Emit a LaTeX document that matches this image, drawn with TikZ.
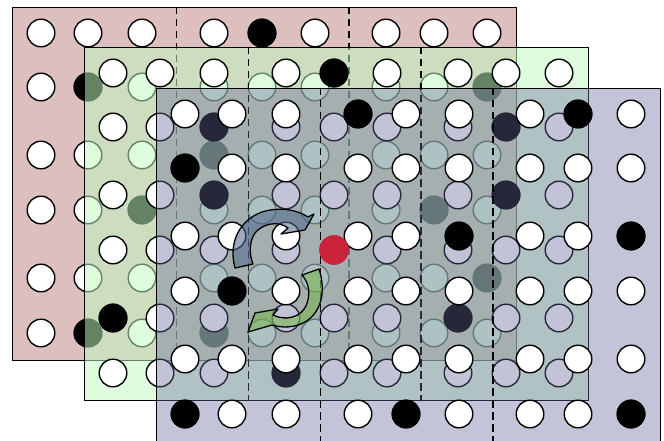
\documentclass[tikz,border=0pt]{standalone}
\usetikzlibrary{calc}
\definecolor{sheetpink}{RGB}{222,191,191}
\definecolor{sheetgreen}{RGB}{192,250,192}
\definecolor{sheetblue}{RGB}{103,103,154}
\definecolor{spinblue}{RGB}{77,104,139}
\definecolor{spingreen}{RGB}{120,180,80}
\definecolor{probered}{RGB}{204,34,58}

% one sheet: frame, two dashed dividers, 9x6 beads, dark beads on top
\newcommand{\beadsheet}[5]{%
  \node[sheet,#4] (#1) at (#2,#3) {};
  \foreach \dx in {164.5,337}
    \draw[divider] ($(#1.north west)+(\dx,0)$) -- ($(#1.south west)+(\dx,0)$);
  \foreach \col/\dx in {1/29,2/76,3/130,4/202,5/250,6/303,7/374,8/422,9/475}
    \foreach \row/\dy in {1/26,2/80,3/148,4/203,5/271,6/326}
      \node[bead] (#1-\col-\row) at ($(#1.north west)+(\dx,\dy)$) {};
  \foreach \s in {#5}
    \fill[black] (#1-\s.center) circle[radius=14.4pt];
}

\begin{document}
\begin{tikzpicture}[
      x=1pt,y=-1pt,
      sheet/.style={draw=black,line width=1.4pt,anchor=north west,inner sep=0pt,
                    minimum width=504pt,minimum height=353pt},
      bead/.style={circle,draw=black,line width=1.4pt,fill=white,inner sep=0pt,minimum size=27.6pt},
      divider/.style={draw=black,line width=1.5pt,dash pattern=on 7.5pt off 4.5pt},
      spin/.style={draw=black,line width=1.3pt,line join=round}
  ]
    \useasboundingbox (0,0) rectangle (664,441);

    \beadsheet{pink}{12}{7}{fill=sheetpink}{5-1,2-2,9-2,4-3,3-4,8-4,9-5,2-6,4-6}
    \beadsheet{green}{84}{47}{fill=sheetgreen,fill opacity=0.52}{5-1,3-2,8-2,3-3,8-3,1-5,7-5,4-6}
    \beadsheet{blue}{156}{88}{fill=sheetblue,fill opacity=0.39}{4-1,8-1,1-2,6-3,9-3,2-4,1-6,5-6,9-6}

    % probed site
    \fill[probered] (green-5-4.center) circle[radius=14.8pt];

    % swap arrows
    \draw[spin,fill=spinblue,fill opacity=0.56] (235,268)
      .. controls (228,242) and (240,220) .. (262,212)
      .. controls (278,207) and (296,209) .. (308,217)
      -- (314,214) -- (305,230) -- (281,234) -- (288,228)
      .. controls (278,220) and (262,224) .. (255,233)
      .. controls (249,242) and (249,254) .. (253,264) -- cycle;
    \draw[spin,fill=spingreen,fill opacity=0.6] (302,275) -- (319,269)
      .. controls (326,290) and (322,312) .. (305,322)
      .. controls (294,328) and (282,328) .. (272,325)
      -- (248,332) -- (255,313) -- (278,309) -- (273,315)
      .. controls (285,321) and (300,318) .. (306,306)
      .. controls (311,294) and (309,283) .. (302,275) -- cycle;
  \end{tikzpicture}
\end{document}
